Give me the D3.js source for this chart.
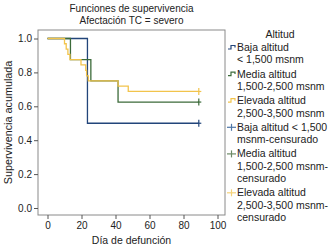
<!DOCTYPE html>
<html>
<head>
<meta charset="utf-8">
<script src="https://cdn.jsdelivr.net/npm/d3@7"></script>
<style>
  body { margin: 0; background: #fff; }
  svg text { font-family: "Liberation Sans", Arial, sans-serif; fill: #222; }
</style>
</head>
<body>
<div id="chart"></div>
<script>
// ---- Data ----
const groups = ["Baja altitud", "Media altitud", "Elevada altitud"];
const groupColors = ["#22457a", "#3c6b3a", "#f2c44c"];
const censorColors = ["#4f77a8", "#6d8a66", "#f5d37a"];

// step points: [day, cumulative survival]
const bajaSteps = [[0, 1], [23.5, 0.5]];
const mediaSteps = [[0, 1], [13.5, 0.875], [25.5, 0.75], [41.5, 0.625]];
const elevadaSteps = [[0, 1], [10, 0.969], [11, 0.9375], [12, 0.906], [13.2, 0.875],
  [19.7, 0.844], [22.5, 0.8125], [23, 0.78], [24, 0.75], [41.5, 0.719], [47.5, 0.6875]];
const censorDay = [89, 89, 89];

const xTicks = [0, 20, 40, 60, 80, 100];
const yTicks = [0, 0.2, 0.4, 0.6, 0.8, 1.0];

const legendItems = [
  { lines: ["Baja altitud", "< 1,500 msnm"], type: "step", g: 0 },
  { lines: ["Media altitud", "1,500-2,500 msnm"], type: "step", g: 1 },
  { lines: ["Elevada altitud", "2,500-3,500 msnm"], type: "step", g: 2 },
  { lines: ["Baja altitud < 1,500", "msnm-censurado"], type: "cens", g: 0 },
  { lines: ["Media altitud", "1,500-2,500 msnm-", "censurado"], type: "cens", g: 1 },
  { lines: ["Elevada altitud", "2,500-3,500 msnm-", "censurado"], type: "cens", g: 2 }
];

const W = 331, H = 249;
const frame = { left: 38, right: 225, top: 30, bottom: 215 };

const svg = d3.select("#chart").append("svg")
  .attr("width", W).attr("height", H);

// ---- Scales ----
const x = d3.scaleLinear().domain([0, 100]).range([47.5, 217.5]);
const y = d3.scaleLinear().domain([0, 1]).range([208, 38.5]);

// ---- Titles ----
const cx = (frame.left + frame.right) / 2;
svg.append("text").attr("x", cx).attr("y", 12).attr("text-anchor", "middle")
  .attr("font-size", 10).text("Funciones de supervivencia");
svg.append("text").attr("x", cx).attr("y", 24).attr("text-anchor", "middle")
  .attr("font-size", 10).text("Afectación TC = severo");

// ---- Frame ----
svg.append("rect")
  .attr("x", frame.left).attr("y", frame.top)
  .attr("width", frame.right - frame.left).attr("height", frame.bottom - frame.top)
  .attr("fill", "none").attr("stroke", "#8a8a8a").attr("stroke-width", 1);

// ---- Axes ----
const yAxis = svg.append("g").attr("transform", `translate(${frame.left},0)`)
  .call(d3.axisLeft(y).tickValues(yTicks).tickFormat(d3.format(".1f")).tickSize(4).tickPadding(2));
const xAxis = svg.append("g").attr("transform", `translate(0,${frame.bottom})`)
  .call(d3.axisBottom(x).tickValues(xTicks).tickSize(4).tickPadding(3));
[yAxis, xAxis].forEach(a => {
  a.select(".domain").remove();
  a.selectAll(".tick line").attr("stroke", "#555");
  a.selectAll(".tick text").attr("font-size", 10).attr("fill", "#222")
    .attr("font-family", "Liberation Sans, Arial, sans-serif");
});

svg.append("text").attr("x", cx).attr("y", 244).attr("text-anchor", "middle")
  .attr("font-size", 10.5).text("Día de defunción");
svg.append("text")
  .attr("transform", `translate(12,${(frame.top + frame.bottom) / 2}) rotate(-90)`)
  .attr("text-anchor", "middle").attr("font-size", 10.8).text("Supervivencia acumulada");

// ---- Survival curves ----
const line = d3.line().x(d => x(d[0])).y(d => y(d[1])).curve(d3.curveStepAfter);
const allSteps = [bajaSteps, mediaSteps, elevadaSteps];

allSteps.forEach((steps, i) => {
  const last = steps[steps.length - 1][1];
  const pts = steps.concat([[censorDay[i], last]]);
  svg.append("path").datum(pts)
    .attr("d", line)
    .attr("fill", "none")
    .attr("stroke", groupColors[i])
    .attr("stroke-width", 1.3);
});

// censor marks
allSteps.forEach((steps, i) => {
  const last = steps[steps.length - 1][1];
  const px = x(censorDay[i]), py = y(last);
  svg.append("line")
    .attr("x1", px).attr("x2", px).attr("y1", py - 3.5).attr("y2", py + 3.5)
    .attr("stroke", groupColors[i]).attr("stroke-width", 1.2);
  svg.append("line")
    .attr("x1", px - 1).attr("x2", px + 2.5).attr("y1", py).attr("y2", py)
    .attr("stroke", groupColors[i]).attr("stroke-width", 1.2);
});

// ---- Legend ----
const lg = svg.append("g");
lg.append("text").attr("x", 280).attr("y", 38).attr("text-anchor", "middle")
  .attr("font-size", 10.5).text("Altitud");

const lineH = 12.3;
let ly = 51;
legendItems.forEach(item => {
  const sx = 228;
  if (item.type === "step") {
    lg.append("path")
      .attr("d", `M${sx},${ly - 2} h3 v-3.5 h4 v2`)
      .attr("fill", "none").attr("stroke", groupColors[item.g]).attr("stroke-width", 1.2);
  } else {
    lg.append("line").attr("x1", sx - 1).attr("x2", sx + 8).attr("y1", ly - 3.5).attr("y2", ly - 3.5)
      .attr("stroke", censorColors[item.g]).attr("stroke-width", 1.2);
    lg.append("line").attr("x1", sx + 3.5).attr("x2", sx + 3.5).attr("y1", ly - 7).attr("y2", ly)
      .attr("stroke", censorColors[item.g]).attr("stroke-width", 1.2);
  }
  item.lines.forEach((t, k) => {
    lg.append("text").attr("x", 237).attr("y", ly + k * lineH)
      .attr("font-size", 10.5).text(t);
  });
  ly += item.lines.length * lineH + 2;
});
</script>
</body>
</html>
